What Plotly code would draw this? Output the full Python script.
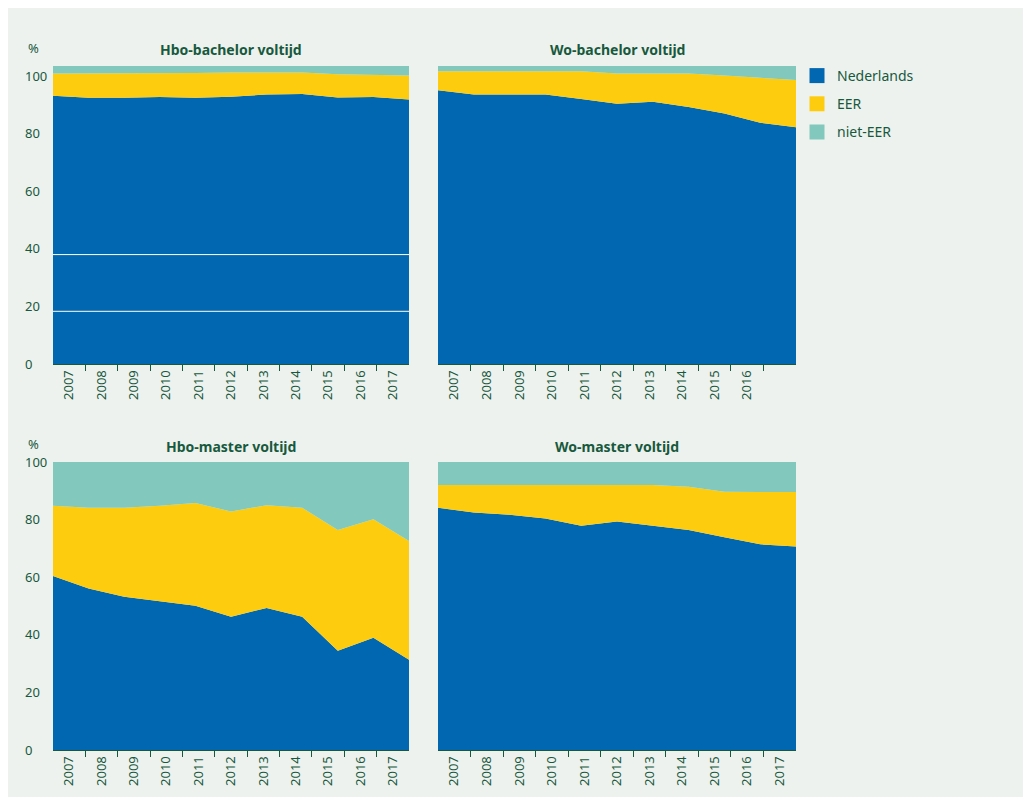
import plotly.graph_objects as go

# ---------------- data ----------------
jaren = ["2007", "2008", "2009", "2010", "2011", "2012", "2013", "2014", "2015", "2016", "2017"]
jaren_wo_bachelor = ["2007", "2008", "2009", "2010", "2011", "2012", "2013", "2014", "2015", "2016"]

hbo_bachelor_nl = [93.2, 92.5, 92.5, 92.7, 92.5, 92.8, 93.6, 93.8, 92.6, 92.7, 91.9]
hbo_bachelor_eer = [7.7, 8.4, 8.4, 8.3, 8.6, 8.4, 7.6, 7.4, 8.0, 7.8, 8.3]
hbo_bachelor_niet_eer = [2.6, 2.6, 2.6, 2.5, 2.4, 2.3, 2.3, 2.3, 2.9, 3.0, 3.3]

wo_bachelor_nl = [95.1, 93.6, 93.6, 93.6, 92.0, 90.4, 91.1, 89.3, 87.0, 83.8, 82.2]
wo_bachelor_eer = [6.6, 8.1, 8.1, 8.1, 9.7, 10.5, 9.8, 11.6, 13.2, 15.7, 16.4]
wo_bachelor_niet_eer = [1.8, 1.8, 1.8, 1.8, 1.8, 2.6, 2.6, 2.6, 3.3, 4.0, 4.9]

hbo_master_nl = [60.4, 56.1, 53.2, 51.7, 50.1, 46.3, 49.3, 46.3, 34.5, 39.0, 31.3]
hbo_master_eer = [24.4, 28.0, 30.9, 33.1, 35.7, 36.5, 35.7, 37.8, 41.9, 41.1, 41.3]
hbo_master_niet_eer = [15.2, 15.9, 15.9, 15.2, 14.2, 17.2, 15.0, 15.9, 23.6, 19.9, 27.4]

wo_master_nl = [84.1, 82.5, 81.7, 80.4, 77.9, 79.3, 77.9, 76.4, 73.9, 71.4, 70.7]
wo_master_eer = [7.9, 9.5, 10.3, 11.6, 14.1, 12.7, 14.1, 15.0, 15.8, 18.2, 18.9]
wo_master_niet_eer = [8.0, 8.0, 8.0, 8.0, 8.0, 8.0, 8.0, 8.6, 10.3, 10.4, 10.4]

hbo_bachelor_witte_lijnen = [38.0, 18.3]

y_ticks = [0, 20, 40, 60, 80, 100]
series_namen = ["Nederlands", "EER", "niet-EER"]
# ---------------- style ----------------
W, H = 1023, 798
kleuren = ["#0067b0", "#fecc0e", "#82c8bc"]
groen = "#17593d"
achtergrond = "#eef2ee"
font_fam = "Noto Sans"

n = len(jaren)
posities = list(range(n))
band = (n - 1) / n
centra = [(i + 0.5) * band for i in range(n)]
grenzen = [k * band for k in range(1, n)]


def px_x(p):
    return p / W


def px_y(p):
    return 1 - p / H


panels = [
    dict(title="Hbo-bachelor voltijd", data=[hbo_bachelor_nl, hbo_bachelor_eer, hbo_bachelor_niet_eer],
         labels=jaren, xd=(53, 409), yd=(66, 364), ymax=103.5, ylab=True),
    dict(title="Wo-bachelor voltijd", data=[wo_bachelor_nl, wo_bachelor_eer, wo_bachelor_niet_eer],
         labels=jaren_wo_bachelor, xd=(438, 796), yd=(66, 364), ymax=103.5, ylab=False),
    dict(title="Hbo-master voltijd", data=[hbo_master_nl, hbo_master_eer, hbo_master_niet_eer],
         labels=jaren, xd=(53, 409), yd=(462, 750), ymax=100, ylab=True),
    dict(title="Wo-master voltijd", data=[wo_master_nl, wo_master_eer, wo_master_niet_eer],
         labels=jaren, xd=(438, 796), yd=(462, 750), ymax=100, ylab=False),
]

fig = go.Figure()
layout = dict(
    width=W, height=H,
    margin=dict(l=0, r=0, t=0, b=0, pad=0, autoexpand=False),
    paper_bgcolor="white",
    plot_bgcolor="rgba(0,0,0,0)",
    font=dict(family=font_fam, color=groen, size=13),
    showlegend=True,
    annotations=[],
    shapes=[dict(type="rect", xref="paper", yref="paper", x0=px_x(8), x1=1.0,
                 y0=px_y(797), y1=px_y(8), fillcolor=achtergrond, line=dict(width=0), layer="below")],
)

for idx, p in enumerate(panels):
    k = "" if idx == 0 else str(idx + 1)
    xa, ya = "x" + k, "y" + k
    for s, (vals, naam) in enumerate(zip(p["data"], series_namen)):
        fig.add_trace(go.Scatter(
            x=posities, y=vals, xaxis=xa, yaxis=ya,
            stackgroup="stack" + str(idx), mode="lines",
            line=dict(width=0, color=kleuren[s]), fillcolor=kleuren[s],
            name=naam, showlegend=False, hoverinfo="x+y+name",
        ))
    layout["xaxis" + k] = dict(
        domain=[px_x(p["xd"][0]), px_x(p["xd"][1])], anchor=ya, range=[0, n - 1],
        tickmode="array", tickvals=centra[:len(p["labels"])], ticktext=p["labels"],
        ticks="", tickangle=-90, tickfont=dict(size=13, color=groen), automargin=False,
        showline=True, linecolor=groen, linewidth=1, showgrid=False, zeroline=False,
        minor=dict(tickmode="array", tickvals=grenzen, ticks="outside", ticklen=6,
                   tickcolor=groen, tickwidth=1, showgrid=False),
    )
    yd = dict(
        domain=[px_y(p["yd"][1]), px_y(p["yd"][0])], range=[0, p["ymax"]], automargin=False,
        tickmode="array", tickvals=y_ticks, ticks="", showgrid=False, zeroline=False,
        showline=False, showticklabels=p["ylab"], tickfont=dict(size=13, color=groen),
    )
    if p["ylab"]:
        yd.update(anchor="free", position=px_x(24), side="right")
    else:
        yd.update(anchor=xa)
    layout["yaxis" + k] = yd
    cx = (p["xd"][0] + p["xd"][1]) / 2
    layout["annotations"].append(dict(
        text="<b>" + p["title"] + "</b>", x=px_x(cx), y=px_y(p["yd"][0] - 16),
        xref="paper", yref="paper", showarrow=False, xanchor="center", yanchor="middle",
        font=dict(size=14, color=groen, family=font_fam)))
    if p["ylab"]:
        layout["annotations"].append(dict(
            text="%", x=px_x(26), y=px_y(p["yd"][0] - 18), xref="paper", yref="paper",
            showarrow=False, xanchor="left", yanchor="middle",
            font=dict(size=13, color=groen, family=font_fam)))

for yv in hbo_bachelor_witte_lijnen:
    layout["shapes"].append(dict(type="line", xref="x domain", yref="y", x0=0, x1=1, y0=yv, y1=yv,
                                 line=dict(color="white", width=1), layer="above"))

# legend entries
for s, naam in enumerate(series_namen):
    fig.add_trace(go.Scatter(
        x=[None], y=[None], mode="markers", name=naam, legendgroup=naam,
        marker=dict(symbol="square", size=15, color=kleuren[s], line=dict(width=0)),
        xaxis="x2", yaxis="y2", showlegend=True,
    ))

layout["legend"] = dict(
    x=px_x(797), y=px_y(60), xanchor="left", yanchor="top",
    bgcolor="rgba(0,0,0,0)", font=dict(size=14, color=groen, family=font_fam),
    tracegroupgap=7, itemsizing="trace",
)

fig.update_layout(**layout)
post = (
    "var gd=document.getElementById('{plot_id}');"
    "document.documentElement.style.margin='0';document.documentElement.style.padding='0';"
    "document.documentElement.style.overflow='hidden';"
    "document.body.style.margin='0';document.body.style.padding='0';document.body.style.overflow='hidden';"
    "gd.style.position='fixed';gd.style.left='0px';gd.style.top='0px';"
)
fig.write_html(
    "out.html",
    config={"displayModeBar": False, "responsive": False},
    post_script=post,
)
